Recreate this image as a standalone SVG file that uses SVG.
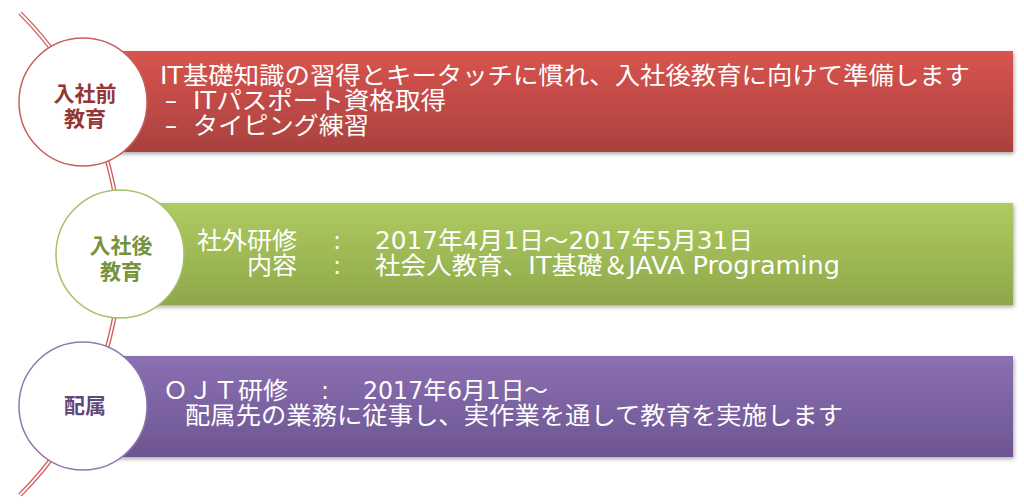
<svg xmlns="http://www.w3.org/2000/svg" width="1024" height="504" viewBox="0 0 1024 504">
<defs>
<linearGradient id="gRed" x1="0" y1="0" x2="0" y2="1">
<stop offset="0" stop-color="#D9544F"/><stop offset="1" stop-color="#A9413E"/>
</linearGradient>
<linearGradient id="gGreen" x1="0" y1="0" x2="0" y2="1">
<stop offset="0" stop-color="#AFCB61"/><stop offset="1" stop-color="#8EA84A"/>
</linearGradient>
<linearGradient id="gPurple" x1="0" y1="0" x2="0" y2="1">
<stop offset="0" stop-color="#8B70B2"/><stop offset="1" stop-color="#6D5591"/>
</linearGradient>
<filter id="sh" x="-5%" y="-10%" width="110%" height="130%">
<feGaussianBlur in="SourceAlpha" stdDeviation="2"/>
<feOffset dx="1" dy="2" result="b"/>
<feComponentTransfer><feFuncA type="linear" slope="0.35"/></feComponentTransfer>
<feMerge><feMergeNode/><feMergeNode in="SourceGraphic"/></feMerge>
</filter>
</defs>
<style>
.bt{font-family:"DejaVu Sans","Noto Sans CJK JP",sans-serif;font-size:24px;fill:#FFFFFF}
.lb{font-family:"Noto Sans CJK JP",sans-serif;font-size:21px;font-weight:bold;text-anchor:middle}
.cir{fill:#FFFFFF;stroke-width:1.5}
.arcO{fill:none;stroke:#D25B5B;stroke-width:4.5}
.arcI{fill:none;stroke:#FFFFFF;stroke-width:1.8}
</style>
<rect width="1024" height="504" fill="#FFFFFF"/>
<g id="connectors">
<path class="arcO" d="M20,13 A340,340 0 0 1 20,495"/>
<path class="arcI" d="M20,13 A340,340 0 0 1 20,495"/>
</g>
<g id="node-pre">
<rect x="83" y="51" width="930" height="101" fill="url(#gRed)" filter="url(#sh)"/>
<circle class="cir" cx="83" cy="102" r="64" stroke="#C9605C"/>
<text class="lb" x="85" y="101" fill="#943634">入社前</text>
<text class="lb" x="85" y="126" fill="#943634">教育</text>
<text class="bt" x="160" y="84" textLength="810" lengthAdjust="spacingAndGlyphs">IT基礎知識の習得とキータッチに慣れ、入社後教育に向けて準備します</text>
<text class="bt" x="165" y="109">–</text>
<text class="bt" x="193" y="109" textLength="253" lengthAdjust="spacingAndGlyphs">ITパスポート資格取得</text>
<text class="bt" x="165" y="134">–</text>
<text class="bt" x="193" y="134" textLength="176" lengthAdjust="spacingAndGlyphs">タイピング練習</text>
</g>
<g id="node-post">
<rect x="120" y="203" width="893" height="102" fill="url(#gGreen)" filter="url(#sh)"/>
<circle class="cir" cx="120" cy="254" r="64" stroke="#A5C16A"/>
<text class="lb" x="121" y="253" fill="#76923C">入社後</text>
<text class="lb" x="121" y="279" fill="#76923C">教育</text>
<text class="bt" x="297" y="249" text-anchor="end" textLength="100" lengthAdjust="spacingAndGlyphs">社外研修</text>
<text class="bt" x="337" y="249" text-anchor="middle">:</text>
<text class="bt" x="375" y="249" textLength="378" lengthAdjust="spacingAndGlyphs">2017年4月1日～2017年5月31日</text>
<text class="bt" x="297" y="274" text-anchor="end" textLength="50" lengthAdjust="spacingAndGlyphs">内容</text>
<text class="bt" x="337" y="274" text-anchor="middle">:</text>
<text class="bt" x="375" y="274" textLength="465" lengthAdjust="spacingAndGlyphs">社会人教育、IT基礎＆JAVA Programing</text>
</g>
<g id="node-assign">
<rect x="83" y="356" width="930" height="101" fill="url(#gPurple)" filter="url(#sh)"/>
<circle class="cir" cx="83" cy="406" r="64" stroke="#8F78B0"/>
<text class="lb" x="85" y="413" fill="#5F497A">配属</text>
<text class="bt" x="163" y="399" textLength="125" lengthAdjust="spacingAndGlyphs">ＯＪＴ研修</text>
<text class="bt" x="325" y="399" text-anchor="middle">:</text>
<text class="bt" x="363" y="399" textLength="185" lengthAdjust="spacingAndGlyphs">2017年6月1日～</text>
<text class="bt" x="185" y="424" textLength="658" lengthAdjust="spacingAndGlyphs">配属先の業務に従事し、実作業を通して教育を実施します</text>
</g>
</svg>
